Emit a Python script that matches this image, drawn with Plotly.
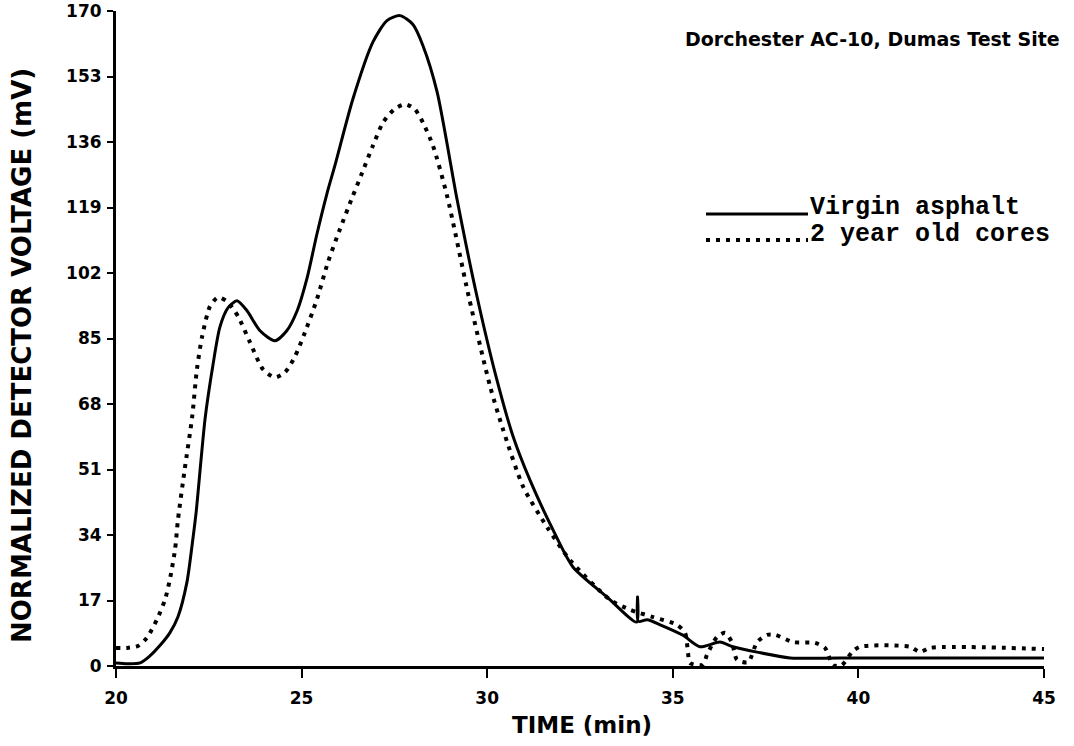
import plotly.graph_objects as go

# ---- data ----
virgin_t = [20.0, 20.3, 20.65, 20.9, 21.2, 21.45, 21.67, 21.91, 22.07, 22.16, 22.40, 22.61,
            22.80, 23.02, 23.26, 23.53, 23.88, 24.28, 24.60, 24.88, 25.15, 25.41, 25.68,
            25.90, 26.38, 26.92, 27.30, 27.65, 28.00, 28.27, 28.65, 29.19, 29.70, 30.26,
            30.70, 31.15, 31.77, 32.31, 33.23, 34.03, 34.05, 34.07, 34.31, 34.66, 35.27,
            35.73, 36.27, 36.62, 37.27, 38.16, 40.0, 42.0, 45.0]
virgin_v = [0.8, 0.6, 0.8, 2.5, 5.5, 8.6, 12.8, 21.7, 32.9, 40.0, 64.2, 78.0,
            88.0, 93.0, 94.8, 92.2, 87.0, 84.4, 87.0, 92.2, 100.8, 112.0, 122.5,
            130.0, 147.1, 161.9, 167.5, 168.8, 166.5, 161.0, 149.0, 121.0, 97.0, 74.3,
            59.5, 48.3, 35.4, 25.7, 17.9, 11.4, 17.9, 11.6, 12.0, 10.7, 8.0,
            5.0, 6.2, 5.0, 3.6, 2.1, 2.1, 2.1, 2.1]

cores_t = [20.0, 20.3, 20.59, 20.83, 21.10, 21.32, 21.45, 21.59, 21.67, 21.85, 22.05, 22.18,
           22.32, 22.53, 22.75, 22.99, 23.29, 23.61, 23.96, 24.28, 24.55, 24.82, 25.09,
           25.41, 25.71, 26.03, 26.36, 26.63, 26.92, 27.19, 27.50, 27.79, 28.05, 28.27,
           28.54, 28.92, 29.50, 30.08, 30.43, 30.97, 31.61, 32.23, 33.31, 33.85, 34.47,
           35.11, 35.33, 35.41, 35.46, 35.81, 35.92, 36.19, 36.41, 36.59, 36.73, 37.03,
           37.27, 37.54, 37.76, 38.24, 38.83, 39.10, 39.32, 39.55, 39.83, 40.04, 41.39,
           41.66, 41.93, 45.0]
cores_v = [4.7, 4.7, 5.2, 7.3, 12.0, 17.2, 22.4, 30.2, 38.0, 51.0, 64.5, 77.0,
           85.5, 93.3, 95.7, 94.6, 90.7, 84.0, 77.0, 74.9, 76.2, 80.3, 86.6,
           95.1, 104.8, 113.3, 121.5, 128.0, 135.0, 141.0, 144.5, 145.8, 144.5, 141.0,
           135.0, 122.0, 96.0, 72.5, 61.3, 46.5, 36.1, 27.5, 17.2, 14.6, 12.7,
           10.7, 8.6, 3.4, 0.8, 0.3, 2.9, 7.5, 8.6, 6.2, 1.6, 1.0,
           6.2, 8.1, 8.1, 6.2, 6.0, 4.7, 0.2, 0.2, 3.6, 5.0, 5.0,
           3.6, 4.7, 4.4]

x_ticks = [20, 25, 30, 35, 40, 45]
y_ticks = [0, 17, 34, 51, 68, 85, 102, 119, 136, 153, 170]

series_names = ["Virgin asphalt", "2 year old cores"]
chart_title = "Dorchester AC-10, Dumas Test Site"
x_title = "TIME (min)"
y_title = "NORMALIZED DETECTOR VOLTAGE (mV)"

# ---- layout geometry (pixels) ----
W, H = 1074, 746
L, R, T, B = 116, 30, 11, 80
PW, PH = W - L - R, H - T - B


def px(xp):
    return (xp - L) / PW


def py(yp):
    return (H - B - yp) / PH


DOT = "4px,6px"

fig = go.Figure()
fig.add_trace(go.Scatter(x=virgin_t, y=virgin_v, mode="lines", name=series_names[0],
                         line=dict(color="black", width=3, shape="spline", smoothing=0.7),
                         showlegend=False))
fig.add_trace(go.Scatter(x=cores_t, y=cores_v, mode="lines", name=series_names[1],
                         line=dict(color="black", width=4, dash=DOT, shape="spline",
                                   smoothing=0.7),
                         showlegend=False))

tick_font = dict(family="DejaVu Sans", size=17, color="black", weight="bold")

fig.update_layout(
    width=W, height=H,
    margin=dict(l=L, r=R, t=T, b=B, autoexpand=False),
    paper_bgcolor="white", plot_bgcolor="white",
    showlegend=False,
    xaxis=dict(range=[20, 45], tickmode="array", tickvals=x_ticks,
               ticktext=[str(v) for v in x_ticks], automargin=False,
               showgrid=False, zeroline=False, showline=True, linecolor="black",
               linewidth=3, ticks="outside", ticklen=9, tickwidth=2, tickcolor="black",
               ticklabelstandoff=6, ticklabeloverflow="allow", tickfont=tick_font),
    yaxis=dict(range=[0, 170], tickmode="array", tickvals=y_ticks,
               ticktext=[str(v) for v in y_ticks], automargin=False,
               showgrid=False, zeroline=False, showline=True, linecolor="black",
               linewidth=3, ticks="outside", ticklen=6, tickwidth=2, tickcolor="black",
               ticklabelstandoff=2, ticklabeloverflow="allow", tickfont=tick_font),
)

annotations = [
    dict(text=chart_title, xref="paper", yref="paper", x=px(1062), y=py(39),
         xanchor="right", yanchor="middle", showarrow=False,
         font=dict(family="DejaVu Sans", size=19, color="black", weight="bold")),
    dict(text=y_title, xref="paper", yref="paper", x=px(22), y=py(356),
         xanchor="center", yanchor="middle", textangle=-90, showarrow=False,
         font=dict(family="DejaVu Sans", size=26, color="black", weight="bold")),
    dict(text=x_title, xref="paper", yref="paper", x=px(582), y=py(725),
         xanchor="center", yanchor="middle", showarrow=False,
         font=dict(family="DejaVu Sans", size=23, color="black", weight="bold")),
    dict(text=series_names[0], xref="paper", yref="paper", x=px(808), y=py(207),
         xanchor="left", yanchor="middle", showarrow=False,
         font=dict(family="Liberation Mono", size=25, color="black", weight="bold")),
    dict(text=series_names[1], xref="paper", yref="paper", x=px(808), y=py(234),
         xanchor="left", yanchor="middle", showarrow=False,
         font=dict(family="Liberation Mono", size=25, color="black", weight="bold")),
]
fig.update_layout(annotations=annotations)

shapes = [
    dict(type="line", xref="paper", yref="paper", x0=px(706), x1=px(808),
         y0=py(214), y1=py(214), line=dict(color="black", width=3)),
    dict(type="line", xref="paper", yref="paper", x0=px(706), x1=px(808),
         y0=py(240), y1=py(240), line=dict(color="black", width=4, dash=DOT)),
]
fig.update_layout(shapes=shapes)

fig.write_html("out.html")
